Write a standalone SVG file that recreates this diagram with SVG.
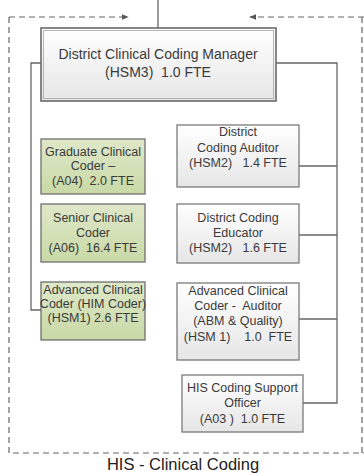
<svg xmlns="http://www.w3.org/2000/svg" width="364" height="473" viewBox="0 0 364 473">
<style>
.t{font-family:"Liberation Sans",Arial,sans-serif;font-size:12.5px;fill:#3a3a3a;text-anchor:middle;white-space:pre}
.g{fill:url(#gg);stroke:#6f6f6f;stroke-width:1.3}
.w{fill:url(#wg);stroke:#7a7a7a;stroke-width:1.3}
.c{fill:none;stroke:#666;stroke-width:1.3}
.d{fill:none;stroke:#666;stroke-width:1.2;stroke-dasharray:6 4}
</style>
<defs>
<linearGradient id="gg" x1="0" y1="0" x2="0" y2="1"><stop offset="0" stop-color="#dfe8c9"/><stop offset="1" stop-color="#c9d9a6"/></linearGradient>
<linearGradient id="wg" x1="0" y1="0" x2="0" y2="1"><stop offset="0" stop-color="#ffffff"/><stop offset="1" stop-color="#e6e6e6"/></linearGradient>
<marker id="ah" viewBox="0 0 10 10" refX="9" refY="5" markerWidth="7" markerHeight="7" orient="auto" markerUnits="userSpaceOnUse"><path d="M0,1 L10,5 L0,9 Z" fill="#555"/></marker>
</defs>
<rect width="364" height="473" fill="#fff"/>
<g id="frame">
<path class="d" d="M9,17 V453 H364"/>
<path class="d" d="M362,17 V453"/>
<path class="d" d="M9,17 H128" marker-end="url(#ah)"/>
<path class="d" d="M364,17 H250" marker-end="url(#ah)"/>
</g>
<g id="connectors">
<path class="c" d="M158,0 V28"/>
<path class="c" d="M41,63 H31 V310 H41"/>
<path class="c" d="M276,63 H337 V403 H303"/>
<path class="c" d="M299,166 H337 M299,235 H337 M299,319 H337"/>
</g>
<g id="manager">
<rect x="41" y="28" width="235" height="73" fill="url(#wg)" stroke="#6a6a6a" stroke-width="1.6"/>
<rect x="43.5" y="30.5" width="230" height="68" fill="none" stroke="#b5b5b5" stroke-width="1"/>
<text class="t" style="font-size:14px" x="158" y="59">District Clinical Coding Manager</text>
<text class="t" style="font-size:14px" x="158" y="77">(HSM3)  1.0 FTE</text>
</g>
<g id="graduate">
<rect class="g" x="41" y="139" width="104" height="55"/>
<text class="t" x="93" y="156">Graduate Clinical</text>
<text class="t" x="93" y="170">Coder –</text>
<text class="t" x="93" y="185">(A04)  2.0 FTE</text>
</g>
<g id="senior">
<rect class="g" x="41" y="204" width="104" height="58"/>
<text class="t" x="93" y="222">Senior Clinical</text>
<text class="t" x="93" y="237">Coder</text>
<text class="t" x="93" y="252">(A06)  16.4 FTE</text>
</g>
<g id="advanced">
<rect class="g" x="41" y="282" width="104" height="58"/>
<text class="t" x="93" y="294">Advanced Clinical</text>
<text class="t" x="93" y="308">Coder (HIM Coder)</text>
<text class="t" x="93" y="322">(HSM1) 2.6 FTE</text>
</g>
<g id="auditor">
<rect class="w" x="177" y="125" width="122" height="62"/>
<text class="t" x="238" y="136">District</text>
<text class="t" x="238" y="152">Coding Auditor</text>
<text class="t" x="238" y="167">(HSM2)   1.4 FTE</text>
</g>
<g id="educator">
<rect class="w" x="177" y="204" width="122" height="59"/>
<text class="t" x="238" y="222">District Coding</text>
<text class="t" x="238" y="237">Educator</text>
<text class="t" x="238" y="252">(HSM2)   1.6 FTE</text>
</g>
<g id="adv-auditor">
<rect class="w" x="177" y="283" width="122" height="77"/>
<text class="t" x="238" y="295">Advanced Clinical</text>
<text class="t" x="238" y="310">Coder -  Auditor</text>
<text class="t" x="238" y="325">(ABM &amp; Quality)</text>
<text class="t" x="238" y="341">(HSM 1)    1.0  FTE</text>
</g>
<g id="support">
<rect class="w" x="182" y="375" width="121" height="57"/>
<text class="t" x="242.5" y="392">HIS Coding Support</text>
<text class="t" x="242.5" y="407">Officer</text>
<text class="t" x="242.5" y="423">(A03 )  1.0 FTE</text>
</g>
<text class="t" style="font-size:16.5px;fill:#222" x="183" y="470">HIS - Clinical Coding</text>
</svg>
